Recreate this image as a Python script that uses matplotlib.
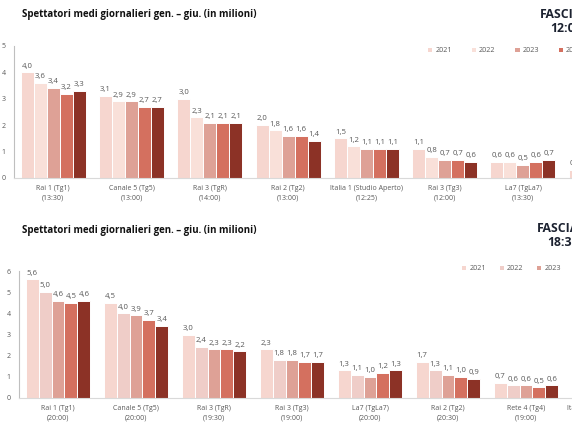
import matplotlib
matplotlib.use("Agg")
import matplotlib.pyplot as plt
from matplotlib.patches import Patch
import numpy as np

plt.rcParams['font.family'] = ['Open Sans', 'DejaVu Sans']

years = ["2021", "2022", "2023", "2024", "2025"]

top_cats = ["Rai 1 (Tg1)\n(13:30)", "Canale 5 (Tg5)\n(13:00)", "Rai 3 (TgR)\n(14:00)",
            "Rai 2 (Tg2)\n(13:00)", "Italia 1 (Studio Aperto)\n(12:25)", "Rai 3 (Tg3)\n(12:00)",
            "La7 (TgLa7)\n(13:30)", "Rete 4 (Tg4)\n(12:00)"]
top_2021 = [4.0, 3.1, 3.0, 2.0, 1.5, 1.1, 0.6, 0.3]
top_2022 = [3.6, 2.9, 2.3, 1.8, 1.2, 0.8, 0.6, 0.3]
top_2023 = [3.4, 2.9, 2.1, 1.6, 1.1, 0.7, 0.5, 0.3]
top_2024 = [3.2, 2.7, 2.1, 1.6, 1.1, 0.7, 0.6, 0.3]
top_2025 = [3.3, 2.7, 2.1, 1.4, 1.1, 0.6, 0.7, 0.3]

bot_cats = ["Rai 1 (Tg1)\n(20:00)", "Canale 5 (Tg5)\n(20:00)", "Rai 3 (TgR)\n(19:30)",
            "Rai 3 (Tg3)\n(19:00)", "La7 (TgLa7)\n(20:00)", "Rai 2 (Tg2)\n(20:30)",
            "Rete 4 (Tg4)\n(19:00)", "Italia 1 (Studio Aperto)\n(18:30)"]
bot_2021 = [5.6, 4.5, 3.0, 2.3, 1.3, 1.7, 0.7, 0.5]
bot_2022 = [5.0, 4.0, 2.4, 1.8, 1.1, 1.3, 0.6, 0.5]
bot_2023 = [4.6, 3.9, 2.3, 1.8, 1.0, 1.1, 0.6, 0.5]
bot_2024 = [4.5, 3.7, 2.3, 1.7, 1.2, 1.0, 0.5, 0.5]
bot_2025 = [4.6, 3.4, 2.2, 1.7, 1.3, 0.9, 0.6, 0.5]

top_colors = ["#f6d6cf", "#f9e0d9", "#dea196", "#d4705f", "#8c3226"]
bot_colors = ["#f6d6cf", "#efcdc8", "#dea196", "#d4705f", "#8c3226"]

title = "Spettatori medi giornalieri gen. – giu. (in milioni)"
GRAY = "#595959"
DARK = "#1c2230"

W, H = 572, 429
fig = plt.figure(figsize=(W / 100, H / 100), dpi=100)


def draw(ax, cats, series, colors, ymax):
    n = len(cats)
    x = np.arange(n)
    bw = 0.166
    for i, vals in enumerate(series):
        pos = x + (i - 2) * bw
        bars = ax.bar(pos, vals, bw, color=colors[i], edgecolor="white", linewidth=0.7)
        for b, v in zip(bars, vals):
            ax.annotate(f"{v:.1f}".replace(".", ","), (b.get_x() + b.get_width() / 2, v),
                        xytext=(0, 2), textcoords="offset points", ha="center", va="bottom",
                        fontsize=5.6, color=GRAY)
    ax.set_xlim(-0.5, n - 0.5)
    ax.set_ylim(0, ymax)
    ax.set_yticks(range(ymax + 1))
    ax.set_xticks(x)
    ax.set_xticklabels(cats, fontsize=5.0, color=GRAY, linespacing=1.6)
    ax.tick_params(axis="both", length=0, labelsize=5.0, labelcolor=GRAY)
    ax.tick_params(axis="x", pad=5)
    ax.tick_params(axis="y", pad=6)
    for s in ["top", "right"]:
        ax.spines[s].set_visible(False)
    ax.spines["left"].set_color("#bfbfbf")
    ax.spines["bottom"].set_color("#d9d9d9")
    ax.spines["left"].set_linewidth(0.8)
    ax.spines["bottom"].set_linewidth(0.8)
    ax.set_facecolor("none")


ax1 = fig.add_axes([14 / W, 1 - 178 / H, 8 * 78.3 / W, 132 / H])
draw(ax1, top_cats, [top_2021, top_2022, top_2023, top_2024, top_2025], top_colors, 5)

ax2 = fig.add_axes([19 / W, 1 - 398 / H, 8 * 78 / W, 127 / H])
draw(ax2, bot_cats, [bot_2021, bot_2022, bot_2023, bot_2024, bot_2025], bot_colors, 6)

# titles
fig.text(22 / W, 1 - 15 / H, title, fontsize=7.0, fontweight="bold", color="#111111",
         ha="left", va="center")
fig.text(22 / W, 1 - 231 / H, title, fontsize=7.0, fontweight="bold", color="#111111",
         ha="left", va="center")

fig.text(540 / W, 1 - 14 / H, "FASCIA", fontsize=8.8, fontweight="bold", color=DARK,
         ha="left", va="center")
fig.text(550 / W, 1 - 29 / H, "12:00", fontsize=8.8, fontweight="bold", color=DARK,
         ha="left", va="center")
fig.text(537 / W, 1 - 228 / H, "FASCIA", fontsize=8.8, fontweight="bold", color=DARK,
         ha="left", va="center")
fig.text(547 / W, 1 - 242 / H, "18:30", fontsize=8.8, fontweight="bold", color=DARK,
         ha="left", va="center")

# legends
h1 = [Patch(facecolor=c, edgecolor="none") for c in top_colors]
fig.legend(h1, years, loc="center left", bbox_to_anchor=(428 / W, 1 - 51 / H), ncol=5,
           frameon=False, fontsize=5.2, labelcolor=GRAY, handlelength=0.6, handleheight=0.6,
           handletextpad=0.4, columnspacing=2.75, borderaxespad=0, borderpad=0)
h2 = [Patch(facecolor=c, edgecolor="none") for c in bot_colors]
fig.legend(h2, years, loc="center left", bbox_to_anchor=(462 / W, 1 - 269 / H), ncol=5,
           frameon=False, fontsize=5.2, labelcolor=GRAY, handlelength=0.6, handleheight=0.6,
           handletextpad=0.4, columnspacing=1.9, borderaxespad=0, borderpad=0)

fig.savefig("out.png", dpi=100)
